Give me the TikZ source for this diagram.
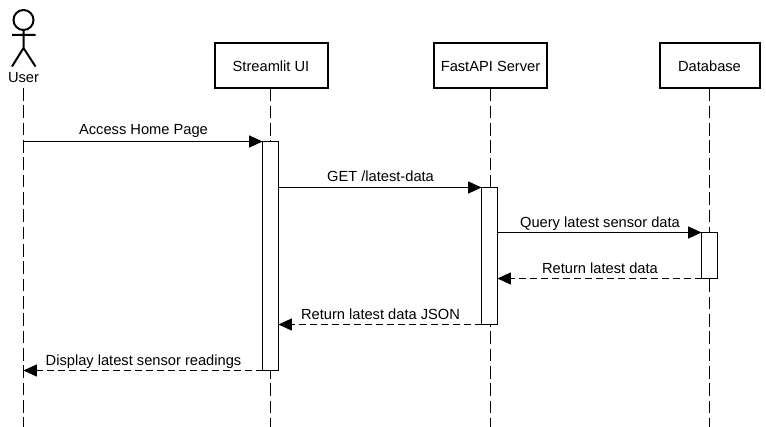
\documentclass[tikz,border=0pt]{standalone}
\usepackage{fontspec}
\setmainfont{Liberation Sans}
\usetikzlibrary{arrows.meta}
\definecolor{ink}{HTML}{000000}
\tikzset{x=0.75pt,y=-0.75pt,
 party/.style={draw=ink,line width=1.5pt,fill=white,minimum height=33.75pt,inner sep=0pt,outer sep=0pt,font=\fontsize{11}{13}\selectfont},
 life/.style={draw=ink,line width=0.8pt,dash pattern=on 9.5pt off 3.5pt},
 act/.style={draw=ink,line width=0.8pt,fill=white,minimum width=12pt,inner sep=0pt,outer sep=0pt,anchor=north},
 msg/.style={draw=ink,line width=0.8pt,-{Triangle[length=10pt,width=9pt]}},
 ret/.style={draw=ink,line width=0.8pt,dash pattern=on 5.25pt off 3pt,-{Triangle[length=10pt,width=9pt]}},
 lab/.style={font=\fontsize{11}{13}\selectfont,inner sep=0pt,anchor=base}}
\begin{document}
\begin{tikzpicture}
\useasboundingbox (0,0) rectangle (766,427);
\fill[white] (0,0) rectangle (766,427);
% lifelines
\coordinate (u0) at (23.5,88); \coordinate (u1) at (23.5,427);
\coordinate (s1) at (270.5,427);
\coordinate (f1) at (490.5,427);
\coordinate (d1) at (709.5,427);
\node[party,minimum width=84.75pt] (s) at (271,66) {Streamlit UI};
\node[party,minimum width=84.75pt] (f) at (490.5,66) {FastAPI Server};
\node[party,minimum width=75pt] (d) at (709.5,66) {Database};
\draw[life] (s.south-|s1)--(s1);
\draw[life] (f)--(f1);
\draw[life] (d)--(d1);
\draw[life] (u0)--(u1);
% actor
\coordinate (hc) at (23.5,20);
\draw[draw=ink,line width=1.5pt] (hc) circle [radius=10];
\coordinate (n) at (23.5,30); \coordinate (h) at (23.5,48);
\coordinate (al) at (12,35); \coordinate (ar) at (35.5,35);
\coordinate (fl) at (12,66.5); \coordinate (fr) at (35.5,66.5);
\draw[draw=ink,line width=1.5pt] (n)--(h) (al)--(ar) (fl)--(h)--(fr);
\node[font=\fontsize{11}{13}\selectfont,inner sep=0pt] (user) at (23.5,78) {User};
% activations
\node[act,minimum height=171.75pt] (as) at (270.5,141.5) {};
\node[act,minimum height=102.75pt] (af) at (489.5,187.5) {};
\node[act,minimum height=34.5pt] (ad) at (709.5,232.5) {};
% messages
\coordinate (m1a) at (23.5,141.5); \coordinate (m6b) at (23.5,370.5);
\draw[msg] (m1a)--(as.north west);
\draw[msg] (as.east|-af.north)--(af.north west);
\draw[msg] (af.east|-ad.north)--(ad.north west);
\draw[ret] (ad.south west)--(af.east|-ad.south);
\draw[ret] (af.south west)--(as.east|-af.south);
\draw[ret] (as.south west)--(m6b);
\node[lab] (l1) at (143.5,135) {Access Home Page};
\node[lab] (l2) at (380.5,181.5) {GET /latest-data};
\node[lab] (l3) at (600,227.5) {Query latest sensor data};
\node[lab] (l4) at (600,273.5) {Return latest data};
\node[lab] (l5) at (380.5,319) {Return latest data JSON};
\node[lab] (l6) at (143.5,365) {Display latest sensor readings};
\end{tikzpicture}
\end{document}
